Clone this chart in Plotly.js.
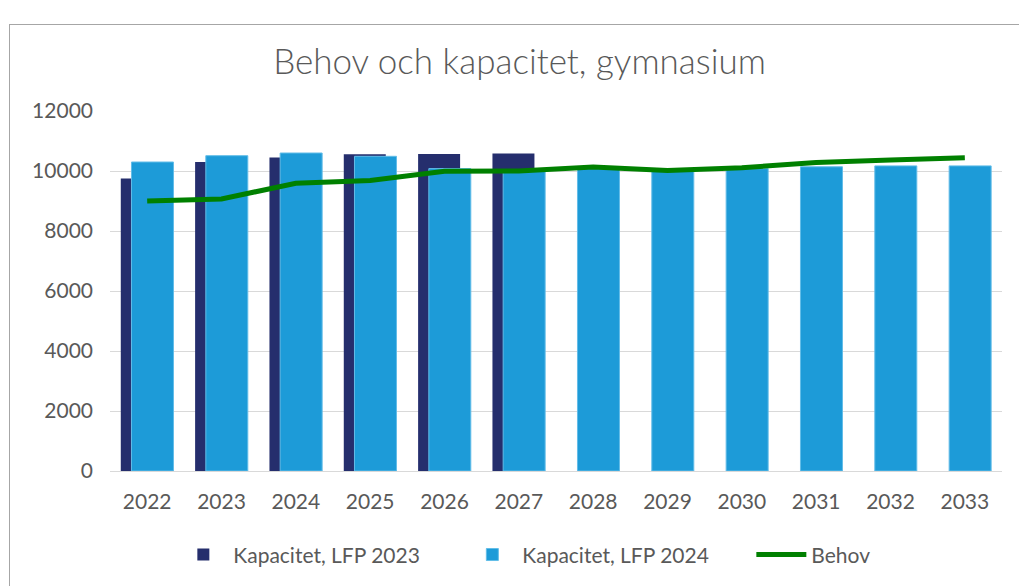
<!DOCTYPE html>
<html>
<head>
<meta charset="utf-8">
<script src="https://cdn.plot.ly/plotly-3.0.1.min.js"></script>
<style>
html,body{margin:0;padding:0;background:#fff;overflow:hidden;}
#chart{position:absolute;left:0;top:0;width:1019px;height:586px;}
#frame{position:absolute;left:9px;top:24px;width:1100px;height:700px;border:1px solid #A6A6A6;pointer-events:none;}
</style>
</head>
<body>
<div id="chart"></div>
<div id="frame"></div>
<script>
const years = ["2022","2023","2024","2025","2026","2027","2028","2029","2030","2031","2032","2033"];
const years2023 = ["2022","2023","2024","2025","2026","2027"];
const kapacitet2023 = [9750, 10300, 10450, 10560, 10570, 10580];
const kapacitet2024 = [10300, 10510, 10600, 10490, 10080, 10000, 10080, 10000, 10080, 10140, 10170, 10170];
const behov = [9000, 9070, 9590, 9680, 9990, 10000, 10130, 10020, 10110, 10280, 10370, 10440];

const textColor = "#595959";
const font = "Lato, 'Open Sans', sans-serif";

const traces = [
  {
    type: "bar", name: "Kapacitet, LFP 2023", x: years2023, y: kapacitet2023,
    width: 0.565, offset: -0.355,
    marker: {color: "#252E6D", line: {width: 0}},
    hoverinfo: "skip"
  },
  {
    type: "bar", name: "Kapacitet, LFP 2024", x: years, y: kapacitet2024,
    width: 0.565, offset: -0.211,
    marker: {color: "#1D9BD8", line: {width: 1, color: "#62BDE8"}},
    hoverinfo: "skip"
  },
  {
    type: "scatter", mode: "lines", name: "Behov", x: years, y: behov,
    line: {color: "#008000", width: 5},
    hoverinfo: "skip"
  }
];

const layout = {
  width: 1019, height: 586,
  margin: {l: 110, r: 17, t: 111, b: 115, autoexpand: false},
  paper_bgcolor: "#fff", plot_bgcolor: "#fff",
  barmode: "overlay",
  showlegend: true,
  font: {family: font, color: textColor, size: 21},
  title: {
    text: "Behov och kapacitet, gymnasium",
    font: {family: font, size: 35, color: textColor, weight: 300},
    x: 519.5/1019, xanchor: "center", xref: "container",
    y: 1 - 62/586, yanchor: "middle", yref: "container"
  },
  xaxis: {
    type: "category", categoryorder: "array", categoryarray: years,
    showgrid: false, zeroline: false, showline: true, linecolor: "#D9D9D9", linewidth: 1,
    ticks: "", ticklabelstandoff: 12,
    tickfont: {family: font, size: 21, color: textColor}
  },
  yaxis: {
    range: [0, 12000], dtick: 2000, tick0: 0, tickformat: "d",
    showgrid: true, gridcolor: "#D9D9D9", gridwidth: 1,
    zeroline: false, showline: false, ticks: "",
    ticklabelstandoff: 16,
    tickfont: {family: font, size: 21, color: textColor}
  },
  legend: {
    orientation: "h",
    x: 0.557, xanchor: "center",
    y: -0.233, yanchor: "middle",
    font: {family: font, size: 21, color: textColor},
    entrywidth: 224, itemwidth: 50,
    traceorder: "normal"
  }
};

Plotly.newPlot("chart", traces, layout, {displayModeBar: false, staticPlot: true});
</script>
</body>
</html>
